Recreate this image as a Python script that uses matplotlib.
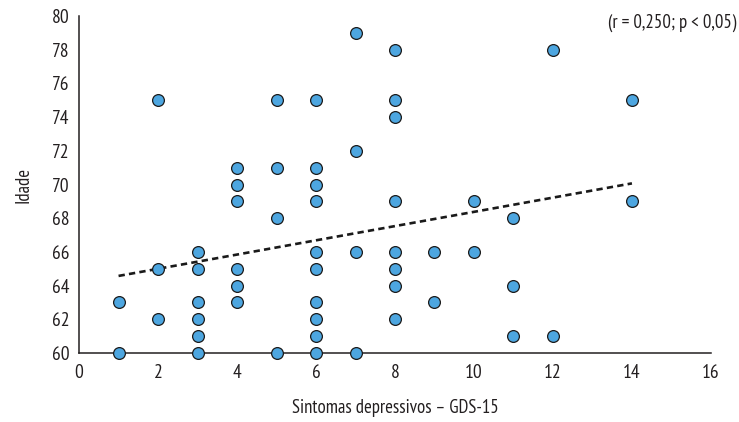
import matplotlib
matplotlib.use("Agg")
import matplotlib.pyplot as plt
import numpy as np

# Sintomas depressivos (GDS-15) e idade
gds = [1, 1,
       2, 2, 2,
       3, 3, 3, 3, 3, 3,
       4, 4, 4, 4, 4, 4,
       5, 5, 5, 5,
       6, 6, 6, 6, 6, 6, 6, 6, 6, 6,
       7, 7, 7, 7,
       8, 8, 8, 8, 8, 8, 8, 8,
       9, 9,
       10, 10,
       11, 11, 11,
       12, 12,
       14, 14]
idade = [63, 60,
         75, 65, 62,
         66, 65, 63, 62, 61, 60,
         71, 70, 69, 65, 64, 63,
         75, 71, 68, 60,
         75, 71, 70, 69, 66, 65, 63, 62, 61, 60,
         79, 72, 66, 60,
         78, 75, 74, 69, 66, 65, 64, 62,
         66, 63,
         69, 66,
         68, 64, 61,
         78, 61,
         75, 69]

x_ticks = [0, 2, 4, 6, 8, 10, 12, 14, 16]
y_ticks = [60, 62, 64, 66, 68, 70, 72, 74, 76, 78, 80]
texto_r = "(r = 0,250; p < 0,05)"

FONTE = ["PT Sans Narrow", "DejaVu Sans"]
plt.rcParams["font.family"] = FONTE
COR_TEXTO = "#231f20"

fig = plt.figure(figsize=(7.39, 4.22), dpi=100)
ax = fig.add_axes([0.107, 0.1635, 0.855, 0.7985])

x = np.array(gds, dtype=float)
y = np.array(idade, dtype=float)
ax.scatter(x, y, s=72, color="#4DA6E0", edgecolor="#1a1a1a",
           linewidth=0.9, zorder=3, clip_on=False)

pendiente, intercepto = np.polyfit(x, y, 1)
x_linea = np.array([x.min(), x.max()])
ax.plot(x_linea, pendiente * x_linea + intercepto, color="#1a1a1a",
        linewidth=1.9, linestyle=(0, (2.4, 1.6)), zorder=2)

ax.set_xlim(0, 16)
ax.set_ylim(60, 80)
ax.set_xticks(x_ticks)
ax.set_yticks(y_ticks)
ax.tick_params(length=0, labelsize=14, colors=COR_TEXTO)
ax.tick_params(axis="x", pad=8)
ax.tick_params(axis="y", pad=7)
for lado in ("top", "right"):
    ax.spines[lado].set_visible(False)
for lado in ("left", "bottom"):
    ax.spines[lado].set_linewidth(1.1)
    ax.spines[lado].set_color(COR_TEXTO)

ax.set_xlabel("Sintomas depressivos – GDS-15", fontsize=13.5,
              color=COR_TEXTO, labelpad=12)
ax.set_ylabel("Idade", fontsize=13.5, color=COR_TEXTO, labelpad=14)

fig.text(0.997, 0.947, texto_r, ha="right", va="center", fontsize=13.5,
         color=COR_TEXTO)

fig.savefig("out.png", dpi=100)
